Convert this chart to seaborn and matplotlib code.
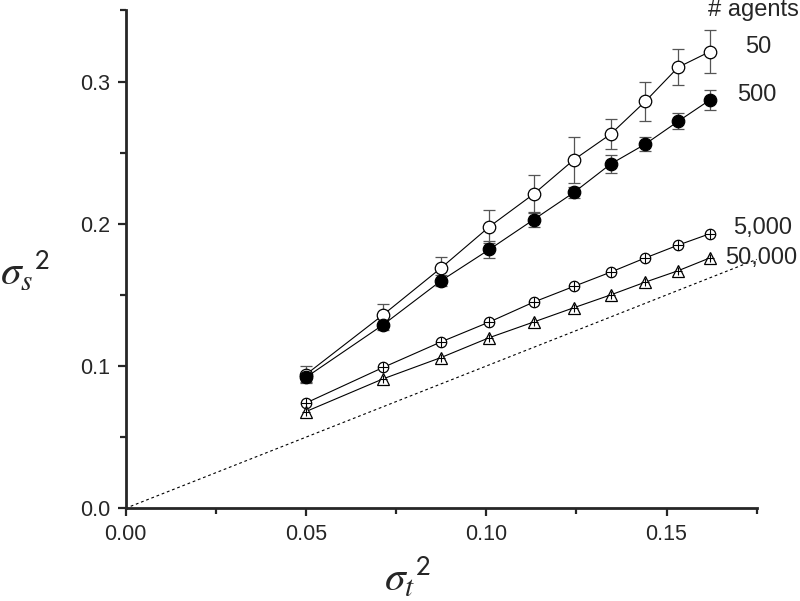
import numpy as np
import pandas as pd
import seaborn as sns
import matplotlib
matplotlib.use('Agg')
import matplotlib.pyplot as plt
from matplotlib.ticker import MultipleLocator, FormatStrFormatter

# valores
sigma_t2 = [0.050, 0.0714, 0.0875, 0.1009, 0.1132, 0.1243, 0.1345, 0.1441, 0.1532, 0.1620]

s_50 = [0.094, 0.136, 0.169, 0.198, 0.221, 0.245, 0.263, 0.286, 0.310, 0.321]
err_50 = [0.006, 0.0075, 0.008, 0.0114, 0.0135, 0.016, 0.0106, 0.014, 0.0127, 0.015]

s_500 = [0.092, 0.129, 0.160, 0.182, 0.203, 0.222, 0.242, 0.256, 0.272, 0.287]
err_500 = [0.003, 0.004, 0.004, 0.006, 0.005, 0.004, 0.0065, 0.005, 0.0056, 0.0073]

s_5000 = [0.074, 0.099, 0.117, 0.131, 0.145, 0.156, 0.166, 0.176, 0.185, 0.193]
s_50000 = [0.068, 0.091, 0.106, 0.120, 0.131, 0.141, 0.150, 0.159, 0.167, 0.176]

rotulos = ['50', '500', '5,000', '50,000']

sns.set_style('ticks')
plt.rcParams['font.family'] = ['Liberation Sans', 'DejaVu Sans']
plt.rcParams['mathtext.fontset'] = 'stix'

fig = plt.figure(figsize=(8, 6.01), dpi=100)
ax = fig.add_axes([0.1569, 0.1542, 0.789, 0.8285])

# linha identidade
ax.plot([0, 0.175], [0, 0.175], ls=(0, (2.5, 2.5)), lw=0.8, color='black', zorder=1)

# barras de erro
for y, e in [(s_50, err_50), (s_500, err_500)]:
    ax.errorbar(sigma_t2, y, yerr=e, fmt='none', ecolor='#555555',
                elinewidth=0.9, capsize=4, capthick=0.9, zorder=2)

kw = dict(color='black', lw=0.8, ax=ax, markeredgecolor='black', markeredgewidth=0.9)
sns.lineplot(x=sigma_t2, y=s_50, marker='o', markersize=9, markerfacecolor='white', zorder=3, **kw)
sns.lineplot(x=sigma_t2, y=s_500, marker='o', markersize=9, markerfacecolor='black', zorder=3, **kw)
sns.lineplot(x=sigma_t2, y=s_5000, marker='o', markersize=7.5, markerfacecolor='white', zorder=3, **kw)
sns.lineplot(x=sigma_t2, y=s_50000, marker='^', markersize=8, markerfacecolor='white', zorder=3, **kw)

# cruz dentro dos marcadores
ax.plot(sigma_t2, s_5000, ls='none', marker='+', markersize=7.5, mec='black', mew=0.8, zorder=4)
ax.plot(sigma_t2, s_50000, ls='none', marker='+', markersize=6, mec='black', mew=0.8, zorder=4)

ax.set_xlim(0, 0.175)
ax.set_ylim(0, 0.35)
ax.xaxis.set_major_locator(MultipleLocator(0.05))
ax.xaxis.set_minor_locator(MultipleLocator(0.025))
ax.yaxis.set_major_locator(MultipleLocator(0.1))
ax.yaxis.set_minor_locator(MultipleLocator(0.05))
ax.xaxis.set_major_formatter(FormatStrFormatter('%.2f'))
ax.yaxis.set_major_formatter(FormatStrFormatter('%.1f'))
ax.tick_params(which='major', length=6, width=1.6, labelsize=15.5, pad=5, direction='out')
ax.tick_params(which='minor', length=4, width=1.6, direction='out')
sns.despine(ax=ax)
for s in ['left', 'bottom']:
    ax.spines[s].set_linewidth(2)

ax.set_xlabel(r'$\sigma_t{}^{\mathsf{2}}$', fontsize=30)
ax.set_ylabel(r'$\sigma_s{}^{\mathsf{2}}$', fontsize=30, rotation=0)
ax.xaxis.set_label_coords(0.446, -0.095)
ax.yaxis.label.set_horizontalalignment('center')
ax.yaxis.label.set_verticalalignment('bottom')
ax.yaxis.set_label_coords(-0.159, 0.43)

fig.text(708 / 800, 1 - 10 / 601, '# agents', fontsize=17, ha='left', va='center')
posicoes = [(758, 47, 'center'), (757, 95, 'center'), (733, 228, 'left'), (725, 258, 'left')]
for rot, (px, py, ha) in zip(rotulos, posicoes):
    fig.text(px / 800, 1 - py / 601, rot, fontsize=17, ha=ha, va='center')

fig.savefig('out.png', dpi=100)
